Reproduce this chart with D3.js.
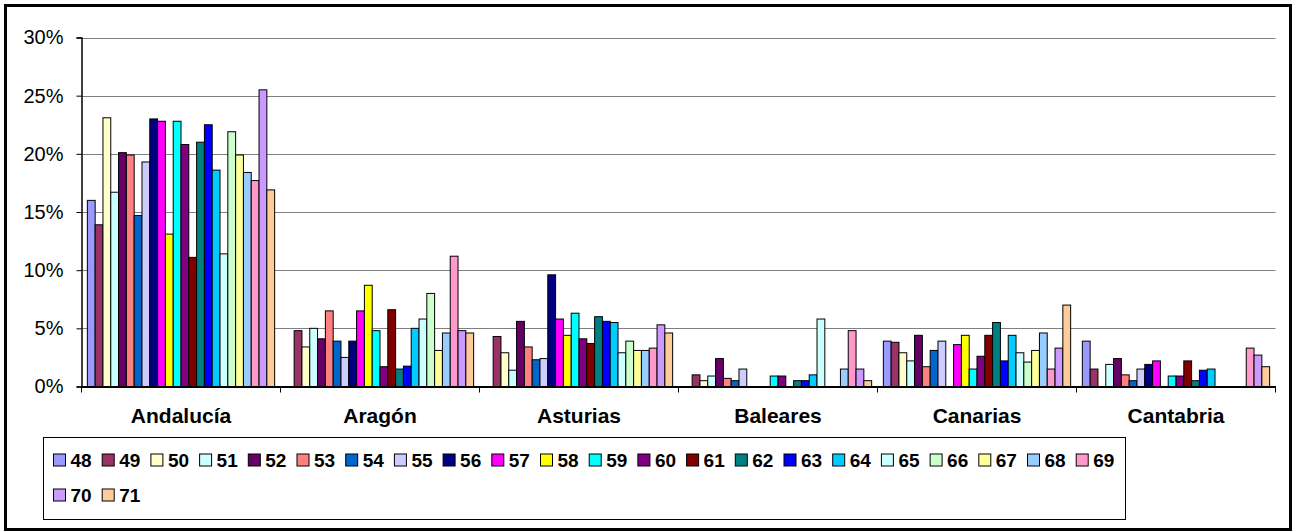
<!DOCTYPE html>
<html>
<head>
<meta charset="utf-8">
<script src="https://cdn.jsdelivr.net/npm/d3@7"></script>
<style>
body { margin: 0; background: #fff; }
svg { display: block; font-family: "Liberation Sans", Arial, sans-serif; }
</style>
</head>
<body>
<div id="chart"></div>
<script>
// Categories (regions) and series (years)
const categories = ['Andalucía', 'Aragón', 'Asturias', 'Baleares', 'Canarias', 'Cantabria'];
const seriesNames = ['48', '49', '50', '51', '52', '53', '54', '55', '56', '57', '58', '59',
    '60', '61', '62', '63', '64', '65', '66', '67', '68', '69', '70', '71'];
const seriesColors = ['#9999FF', '#993366', '#FFFFCC', '#CCFFFF', '#660066', '#FF8080',
    '#0066CC', '#CCCCFF', '#000080', '#FF00FF', '#FFFF00', '#00FFFF',
    '#800080', '#800000', '#008080', '#0000FF', '#00CCFF', '#CCFFFF',
    '#CCFFCC', '#FFFF99', '#99CCFF', '#FF99CC', '#CC99FF', '#FFCC99'];

// Values in percent, one entry per series (48..71)
const andalucia = [16.0, 13.9, 23.1, 16.7, 20.1, 19.9, 14.7, 19.3, 23.0, 22.8, 13.1, 22.8,
    20.8, 11.1, 21.0, 22.5, 18.6, 11.4, 21.9, 19.9, 18.4, 17.7, 25.5, 16.9];
const aragon = [0, 4.8, 3.4, 5.0, 4.1, 6.5, 3.9, 2.5, 3.9, 6.5, 8.7, 4.8,
    1.7, 6.6, 1.5, 1.75, 5.0, 5.8, 8.0, 3.1, 4.6, 11.2, 4.8, 4.6];
const asturias = [0, 4.3, 2.9, 1.4, 5.6, 3.4, 2.3, 2.4, 9.6, 5.8, 4.4, 6.3,
    4.1, 3.7, 6.0, 5.6, 5.5, 2.9, 3.9, 3.1, 3.1, 3.3, 5.3, 4.6];
const baleares = [0, 1.0, 0.5, 0.9, 2.4, 0.7, 0.5, 1.5, 0, 0, 0, 0.9,
    0.9, 0, 0.5, 0.5, 1.0, 5.8, 0, 0, 1.5, 4.8, 1.5, 0.5];
const canarias = [3.9, 3.8, 2.9, 2.2, 4.4, 1.7, 3.1, 3.9, 0, 3.6, 4.4, 1.5,
    2.6, 4.4, 5.5, 2.2, 4.4, 2.9, 2.1, 3.1, 4.6, 1.5, 3.3, 7.0];
const cantabria = [3.9, 1.5, 0, 1.9, 2.4, 1.0, 0.5, 1.5, 1.9, 2.2, 0, 0.9,
    0.9, 2.2, 0.5, 1.4, 1.5, 0, 0, 0, 0, 3.3, 2.7, 1.7];

const yTicks = [0, 5, 10, 15, 20, 25, 30];

const valuesByCategory = [andalucia, aragon, asturias, baleares, canarias, cantabria];
const data = categories.map((c, i) => ({
    category: c,
    values: seriesNames.map((s, j) => ({ series: s, value: valuesByCategory[i][j], color: seriesColors[j] }))
}));

const W = 1293, H = 532;
const plot = { left: 81.5, right: 1275.5, top: 37.5, bottom: 386.5 };

const svg = d3.select('#chart')
    .append('svg')
    .attr('width', W)
    .attr('height', H);

// outer frame
svg.append('rect')
    .attr('x', 5.5).attr('y', 5.5)
    .attr('width', W - 8).attr('height', H - 8)
    .attr('fill', '#fff')
    .attr('stroke', '#000')
    .attr('stroke-width', 3);

const x0 = d3.scaleBand()
    .domain(categories)
    .range([plot.left, plot.right])
    .padding(0);

const x1 = d3.scaleBand()
    .domain(seriesNames)
    .range([0, x0.bandwidth()])
    .paddingInner(0)
    .paddingOuter(0.75);

const y = d3.scaleLinear()
    .domain([0, 30])
    .range([plot.bottom, plot.top]);

// gridlines
svg.append('g')
    .selectAll('line')
    .data(yTicks.filter(d => d > 0))
    .enter()
    .append('line')
    .attr('x1', plot.left)
    .attr('x2', plot.right)
    .attr('y1', d => Math.round(y(d)) + 0.5)
    .attr('y2', d => Math.round(y(d)) + 0.5)
    .attr('stroke', '#808080')
    .attr('stroke-width', 1);

// bars
const groups = svg.append('g')
    .selectAll('g')
    .data(data)
    .enter()
    .append('g')
    .attr('transform', d => `translate(${x0(d.category)},0)`);

groups.selectAll('rect')
    .data(d => d.values.filter(v => v.value > 0))
    .enter()
    .append('rect')
    .attr('x', d => x1(d.series))
    .attr('y', d => y(d.value))
    .attr('width', x1.bandwidth())
    .attr('height', d => y(0) - y(d.value))
    .attr('fill', d => d.color)
    .attr('stroke', '#000')
    .attr('stroke-width', 1);

// y axis
const yAxis = d3.axisLeft(y)
    .tickValues(yTicks)
    .tickSize(5)
    .tickPadding(13)
    .tickFormat(d => d + '%');

const yG = svg.append('g')
    .attr('transform', `translate(${plot.left},0)`)
    .call(yAxis);
yG.select('.domain').attr('stroke', '#000').attr('stroke-width', 1.5);
yG.selectAll('.tick line').attr('stroke', '#000');
yG.selectAll('.tick text')
    .style('font-size', '20px')
    .style('font-family', '"Liberation Sans", Arial, sans-serif')
    .attr('fill', '#000');

// x axis
const xAxis = d3.axisBottom(x0)
    .tickSize(0)
    .tickPadding(22);

const xG = svg.append('g')
    .attr('transform', `translate(0,${plot.bottom})`)
    .call(xAxis);
xG.select('.domain').attr('stroke', '#000').attr('stroke-width', 2);
xG.selectAll('.tick text')
    .style('font-size', '21px')
    .style('font-weight', 'bold')
    .style('font-family', '"Liberation Sans", Arial, sans-serif')
    .attr('fill', '#000');

// category boundary ticks
xG.append('g')
    .selectAll('line')
    .data(categories.map(c => x0(c)).concat([plot.right]))
    .enter()
    .append('line')
    .attr('x1', d => d)
    .attr('x2', d => d)
    .attr('y1', 0)
    .attr('y2', 6)
    .attr('stroke', '#000')
    .attr('stroke-width', 1);

// legend
const legendBox = { x: 43.5, y: 437.5, w: 1082, h: 82 };
svg.append('rect')
    .attr('x', legendBox.x)
    .attr('y', legendBox.y)
    .attr('width', legendBox.w)
    .attr('height', legendBox.h)
    .attr('fill', '#fff')
    .attr('stroke', '#000')
    .attr('stroke-width', 1);

const perRow = 22;
const itemStep = 48.7;
const legendItems = svg.append('g')
    .selectAll('g')
    .data(seriesNames)
    .enter()
    .append('g')
    .attr('transform', (d, i) => {
        const col = i % perRow;
        const row = Math.floor(i / perRow);
        return `translate(${53.5 + col * itemStep},${460 + row * 35})`;
    });

legendItems.append('rect')
    .attr('x', 0)
    .attr('y', -6)
    .attr('width', 12)
    .attr('height', 12)
    .attr('fill', (d, i) => seriesColors[i])
    .attr('stroke', '#000')
    .attr('stroke-width', 1);

legendItems.append('text')
    .attr('x', 17)
    .attr('y', 0)
    .attr('dy', '0.36em')
    .text(d => d)
    .style('font-size', '19px')
    .style('font-weight', 'bold');
</script>
</body>
</html>
